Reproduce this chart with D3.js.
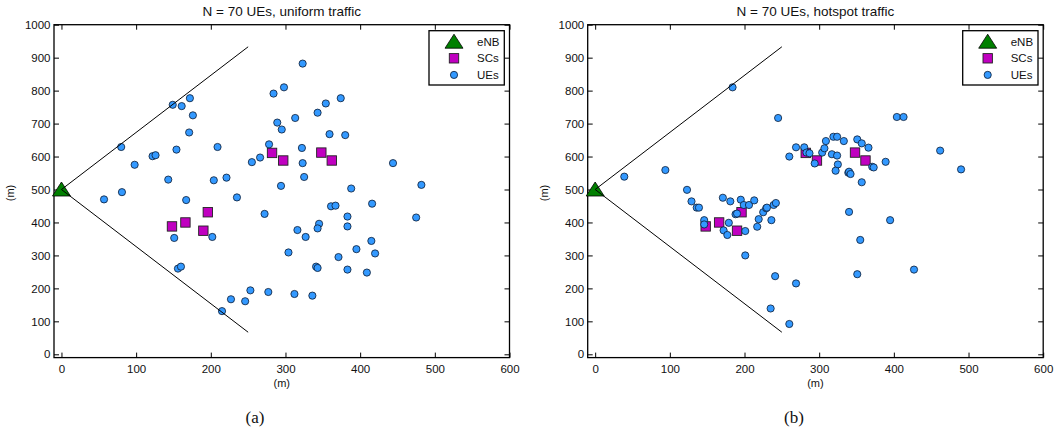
<!DOCTYPE html>
<html>
<head>
<meta charset="utf-8">
<script src="https://cdn.jsdelivr.net/npm/d3@7"></script>
<style>
  body { margin: 0; background: #fff; }
  svg { display: block; }
</style>
</head>
<body>
<svg id="chart" width="1056" height="434"></svg>
<script>
// positions in metres
const enbPos = [0, 500];
const sectorEnds = [[250, 933], [250, 67]];

const scX = [282, 297, 348, 362, 148, 166, 196, 190];
const scY = [611, 588, 612, 588, 388, 400, 431, 375];

// panel (a): uniform traffic
const ueUniX = [323, 298, 284, 374, 172, 149, 161, 354, 343, 313, 176, 289, 295, 171, 359, 380,
  80, 209, 278, 322, 154, 122, 126, 98, 266, 255, 323, 444, 325, 221, 204, 143, 294, 388, 482,
  81, 57, 167, 235, 416, 361, 367, 272, 475, 383, 345, 383, 343, 316, 151, 202, 327, 415, 395,
  304, 420, 371, 341, 343, 156, 160, 383, 409, 253, 277, 312, 227, 246, 336, 215];
const ueUniY = [882, 810, 791, 777, 777, 757, 753, 761, 733, 717, 725, 703, 682, 673, 668, 665,
  629, 629, 637, 626, 621, 601, 604, 575, 597, 583, 580, 580, 538, 536, 528, 530, 511, 503, 514,
  492, 470, 468, 476, 457, 449, 451, 426, 415, 418, 396, 388, 382, 377, 353, 356, 356, 344, 319,
  309, 306, 295, 266, 262, 260, 266, 257, 248, 194, 189, 183, 167, 161, 178, 131];

// panel (b): hotspot traffic
const ueHotX = [123, 129, 136, 139, 146, 146, 171, 181, 195, 199, 206, 213, 188, 179, 172, 177,
  201, 217, 219, 225, 229, 230, 239, 242, 236, 190,
  260, 269, 280, 283, 287, 294, 304, 307, 309, 319, 324, 333, 317, 324, 325, 322, 339, 340, 342,
  351, 357, 366, 371, 373, 357, 389,
  184, 245, 404, 413, 39, 94, 201, 241, 269, 235, 260, 462, 490, 340, 395, 355, 351, 427];
const ueHotY = [499, 464, 445, 445, 407, 394, 475, 464, 469, 453, 453, 467, 425, 399, 376, 362,
  374, 387, 410, 431, 443, 445, 453, 459, 407, 427,
  600, 628, 628, 612, 610, 579, 612, 625, 647, 660, 660, 647, 607, 603, 576, 557, 551, 554, 547,
  652, 640, 627, 569, 567, 522, 584,
  810, 717, 720, 720, 539, 559, 300, 237, 215, 139, 92, 618, 561, 432, 407, 347, 243, 257];

const xTicks = [0, 100, 200, 300, 400, 500, 600];
const yTicks = [0, 100, 200, 300, 400, 500, 600, 700, 800, 900, 1000];
const legendLabels = ['eNB', 'SCs', 'UEs'];

const panels = [
  { title: 'N = 70 UEs, uniform traffic', tag: '(a)', ueX: ueUniX, ueY: ueUniY, left: 54, tagX: 255 },
  { title: 'N = 70 UEs, hotspot traffic', tag: '(b)', ueX: ueHotX, ueY: ueHotY, left: 587.7, tagX: 794 }
];

const svg = d3.select('#chart');
const font = 'Liberation Sans, Arial, Helvetica, sans-serif';
const plotW = 455.5, plotTop = 24.7, plotBottom = 357.6;
const colors = { enb: '#008000', sc: '#c000c0', ue: '#3399ff' };
const fmt = d3.format('d');

const triPath = (cx, cy) => `M${cx},${cy - 7.5}L${cx + 9},${cy + 6.5}L${cx - 9},${cy + 6.5}Z`;

panels.forEach(p => {
  const x = d3.scaleLinear().domain([-10, 600]).range([p.left, p.left + plotW]);
  const y = d3.scaleLinear().domain([-10, 1000]).range([plotBottom, plotTop]);
  const g = svg.append('g');

  // axes, matlab style: ticks inside on all four sides
  const axB = g.append('g').attr('transform', `translate(0,${plotBottom})`)
    .call(d3.axisBottom(x).tickValues(xTicks).tickFormat(fmt).tickSizeInner(-5).tickSizeOuter(0).tickPadding(7));
  const axT = g.append('g').attr('transform', `translate(0,${plotTop})`)
    .call(d3.axisTop(x).tickValues(xTicks).tickSizeInner(-5).tickSizeOuter(0).tickFormat(''));
  const axL = g.append('g').attr('transform', `translate(${p.left},0)`)
    .call(d3.axisLeft(y).tickValues(yTicks).tickFormat(fmt).tickSizeInner(-5).tickSizeOuter(0).tickPadding(3.5));
  const axR = g.append('g').attr('transform', `translate(${p.left + plotW},0)`)
    .call(d3.axisRight(y).tickValues(yTicks).tickSizeInner(-5).tickSizeOuter(0).tickFormat(''));
  [axB, axT, axL, axR].forEach(a => {
    a.select('.domain').remove();
    a.selectAll('line').attr('stroke', '#000').attr('stroke-width', 1);
    a.selectAll('text').attr('font-family', font).attr('font-size', 11.5).attr('fill', '#111');
  });

  g.append('rect')
    .attr('x', p.left).attr('y', plotTop)
    .attr('width', plotW).attr('height', plotBottom - plotTop)
    .attr('fill', 'none').attr('stroke', '#000').attr('stroke-width', 1.3);

  // eNB
  g.append('path')
    .attr('d', triPath(x(enbPos[0]), y(enbPos[1])))
    .attr('fill', colors.enb).attr('stroke', '#000').attr('stroke-width', 0.8);

  // small cells
  g.selectAll('.sc').data(scX.map((v, i) => [v, scY[i]])).enter().append('rect')
    .attr('class', 'sc')
    .attr('x', d => x(d[0]) - 4.7).attr('y', d => y(d[1]) - 4.7)
    .attr('width', 9.4).attr('height', 9.4)
    .attr('fill', colors.sc).attr('stroke', '#222').attr('stroke-width', 0.9);

  // UEs
  g.selectAll('.ue').data(p.ueX.map((v, i) => [v, p.ueY[i]])).enter().append('circle')
    .attr('class', 'ue')
    .attr('cx', d => x(d[0])).attr('cy', d => y(d[1]))
    .attr('r', 3.6)
    .attr('fill', colors.ue).attr('stroke', '#0a1a33').attr('stroke-width', 0.8);

  // sector borders
  sectorEnds.forEach(e => {
    g.append('line')
      .attr('x1', x(enbPos[0])).attr('y1', y(enbPos[1]))
      .attr('x2', x(e[0])).attr('y2', y(e[1]))
      .attr('stroke', '#000').attr('stroke-width', 1);
  });

  // legend
  const lx = p.left + 375, ly = 30.7;
  const leg = g.append('g');
  leg.append('rect').attr('x', lx).attr('y', ly).attr('width', 75.3).attr('height', 54.3)
    .attr('fill', '#fff').attr('stroke', '#000').attr('stroke-width', 1.3);
  legendLabels.forEach((lab, i) => {
    const cy = ly + 11 + i * 16.6, cx = lx + 25;
    if (i === 0) {
      leg.append('path').attr('d', triPath(cx, cy))
        .attr('fill', colors.enb).attr('stroke', '#000').attr('stroke-width', 0.8);
    } else if (i === 1) {
      leg.append('rect').attr('x', cx - 4.7).attr('y', cy - 4.7).attr('width', 9.4).attr('height', 9.4)
        .attr('fill', colors.sc).attr('stroke', '#222').attr('stroke-width', 0.9);
    } else {
      leg.append('circle').attr('cx', cx).attr('cy', cy).attr('r', 3.6)
        .attr('fill', colors.ue).attr('stroke', '#0a1a33').attr('stroke-width', 0.8);
    }
    leg.append('text').attr('x', lx + 48).attr('y', cy + 4)
      .attr('font-family', font).attr('font-size', 11.5).attr('fill', '#111').text(lab);
  });

  // titles and labels
  g.append('text').attr('x', p.left + plotW / 2).attr('y', 16)
    .attr('text-anchor', 'middle').attr('font-family', font).attr('font-size', 13.5)
    .attr('fill', '#111').text(p.title);
  g.append('text').attr('x', p.left + plotW / 2).attr('y', 387)
    .attr('text-anchor', 'middle').attr('font-family', font).attr('font-size', 11)
    .attr('fill', '#111').text('(m)');
  g.append('text').attr('transform', `translate(${p.left - 40},193) rotate(-90)`)
    .attr('text-anchor', 'middle').attr('font-family', font).attr('font-size', 11)
    .attr('fill', '#111').text('(m)');
  g.append('text').attr('x', p.tagX).attr('y', 423)
    .attr('text-anchor', 'middle').attr('font-family', 'Liberation Serif, Times New Roman, serif')
    .attr('font-size', 17).attr('fill', '#111').text(p.tag);
});
</script>
</body>
</html>
